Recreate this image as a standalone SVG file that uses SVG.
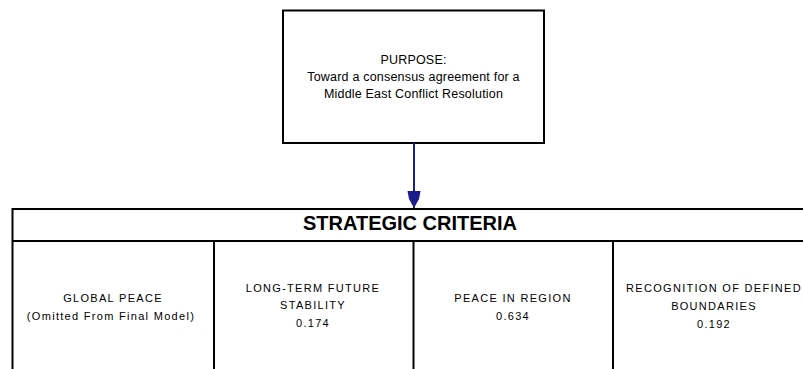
<svg xmlns="http://www.w3.org/2000/svg" width="803" height="369" viewBox="0 0 803 369">
  <defs>
    <style>
      .box { fill: #ffffff; stroke: #000000; stroke-width: 2; }
      .grid { fill: none; stroke: #000000; stroke-width: 2; }
      .t { font-family: "Liberation Sans", Arial, sans-serif; fill: #000000; text-anchor: middle; }
      .p { font-size: 12.5px; letter-spacing: 0.2px; }
      .c { font-size: 11px; letter-spacing: 1.3px; }
      .h { font-size: 20px; font-weight: bold; }
      .conn { stroke: #1c1c8c; stroke-width: 2; fill: none; }
    </style>
    <marker id="arrow" markerUnits="userSpaceOnUse" markerWidth="18" markerHeight="14" refX="17" refY="7" orient="auto" viewBox="0 0 18 14">
      <path d="M0,0.5 L0,13.5 L8,12 L17,7 L8,2 Z" fill="#1c1c8c"/>
    </marker>
  </defs>
  <rect width="803" height="369" fill="#ffffff"/>

  <g id="purpose">
    <rect class="box" x="283" y="10.5" width="261" height="132.5"/>
    <text class="t p" x="413.5" y="64">PURPOSE:</text>
    <text class="t p" x="413.5" y="81">Toward a consensus agreement for a</text>
    <text class="t p" x="413.5" y="98">Middle East Conflict Resolution</text>
  </g>

  <g id="connectors">
    <line class="conn" x1="414" y1="143" x2="414" y2="208" marker-end="url(#arrow)"/>
  </g>

  <g id="strategic-criteria">
    <rect class="box" x="12.5" y="209" width="820" height="200"/>
    <line class="grid" x1="12.5" y1="241" x2="803" y2="241"/>
    <text class="t h" x="410" y="230">STRATEGIC CRITERIA</text>
  </g>

  <g id="global-peace">
    <line class="grid" x1="214" y1="241" x2="214" y2="369"/>
    <text class="t c" x="113" y="302">GLOBAL PEACE</text>
    <text class="t c" x="111" y="320">(Omitted From Final Model)</text>
  </g>

  <g id="long-term-future-stability">
    <line class="grid" x1="413.5" y1="241" x2="413.5" y2="369"/>
    <text class="t c" x="313" y="292">LONG-TERM FUTURE</text>
    <text class="t c" x="313" y="309">STABILITY</text>
    <text class="t c" x="313" y="327">0.174</text>
  </g>

  <g id="peace-in-region">
    <line class="grid" x1="613" y1="241" x2="613" y2="369"/>
    <text class="t c" x="513" y="302">PEACE IN REGION</text>
    <text class="t c" x="513" y="320">0.634</text>
  </g>

  <g id="recognition-of-defined-boundaries">
    <text class="t c" x="714" y="292">RECOGNITION OF DEFINED</text>
    <text class="t c" x="714" y="310">BOUNDARIES</text>
    <text class="t c" x="714" y="328">0.192</text>
  </g>
</svg>
